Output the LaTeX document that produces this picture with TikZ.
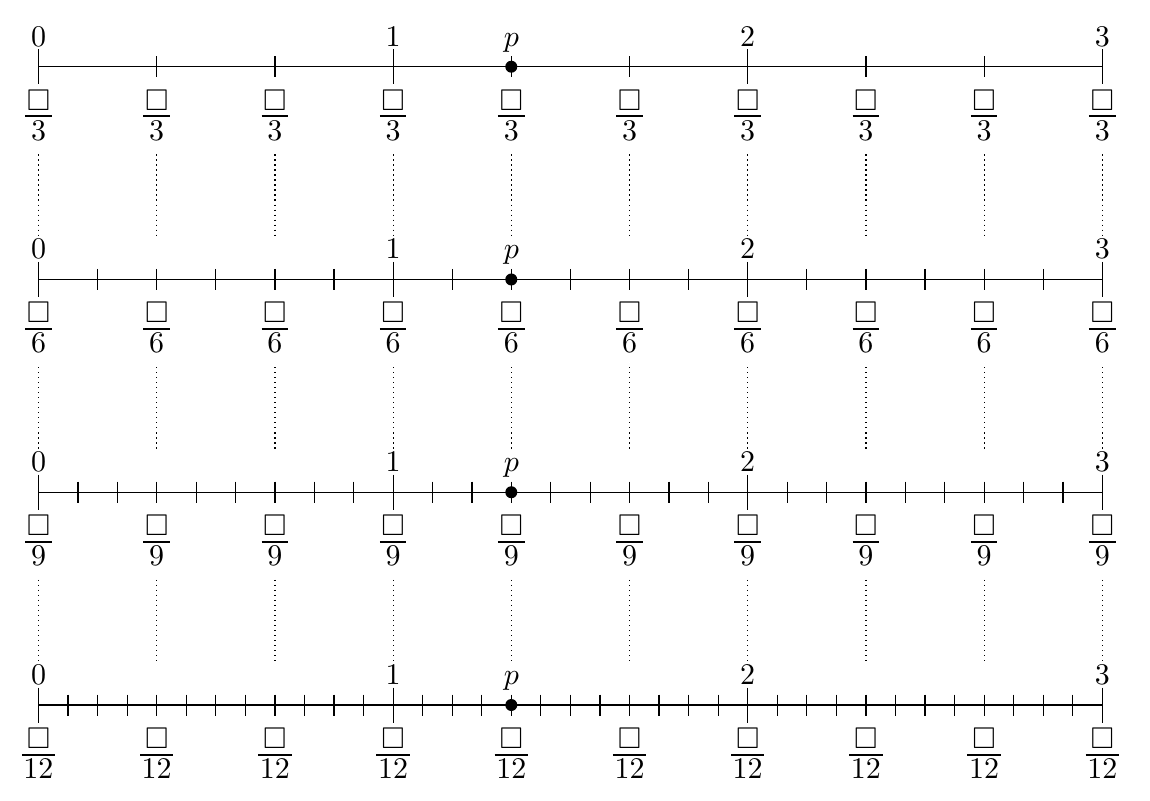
\documentclass[tikz,border=0pt]{standalone}
\usepackage{amssymb}
\newcommand{\sqfrac}[1]{\vbox{\offinterlineskip\halign{\hfil##\hfil\cr
  \kern.55pt$\square$\kern.55pt\cr
  \noalign{\kern1.75pt\hrule height 0.65pt\kern1.1pt}
  \kern.55pt$#1$\kern.55pt\cr}}}
\begin{document}
\begin{tikzpicture}[x=0.33333pt,y=-0.33333pt,
  axisline/.style={line width=0.4pt},
  ticks/.style={line width=0.4pt},
  lab/.style={inner sep=0pt, anchor=base},
  fracnode/.style={inner sep=0pt, anchor=base},
  guide/.style={line width=0.4pt, dash pattern=on 0.4pt off 1.27pt},
  pdot/.style={circle, fill=black, inner sep=0pt, minimum size=4pt}]
\useasboundingbox (0,0) rectangle (1150,801);
\def\xa{38.5}
\def\un{354.6}
\foreach \r/\d [count=\k from 0] in {1/3,2/6,3/9,4/12}{
  \pgfmathsetmacro\yy{66.7+212.77*\k}
  \coordinate (A\r) at (\xa,\yy);
  \coordinate (B\r) at (\xa+3*\un,\yy);
  \draw[axisline] (A\r) -- (B\r);
  \pgfmathsetmacro\nt{int(3*\d)}
  \foreach \j in {0,...,\nt}{
    \pgfmathsetmacro\xx{\xa+\j*\un/\d}
    \draw[ticks] (\xx,\yy-10.5) -- (\xx,\yy+10.5);
  }
  \foreach \m in {0,1,2,3}{
    \pgfmathsetmacro\xx{\xa+\m*\un}
    \draw[ticks] (\xx,\yy-17.5) -- (\xx,\yy+17.5);
    \node[lab] (n\r-\m) at (\xx,\yy-20.7) {$\m$};
  }
  \pgfmathsetmacro\xp{\xa+4*\un/3}
  \node[pdot] (p\r) at (\xp,\yy) {};
  \node[lab] (pl\r) at (\xp,\yy-20.7) {$p$};
  \foreach \i in {0,...,9}{
    \pgfmathsetmacro\xx{\xa+\i*\un/3}
    \node[fracnode] (f\r-\i) at (\xx,\yy+73.3) {\sqfrac{\d}};
    \ifnum\r<4
      \coordinate (e\r-\i) at (\xx,\yy+171);
      \draw[guide] ([yshift=-4.6pt]f\r-\i.south) -- (e\r-\i);
    \fi
  }
}
\end{tikzpicture}
\end{document}
